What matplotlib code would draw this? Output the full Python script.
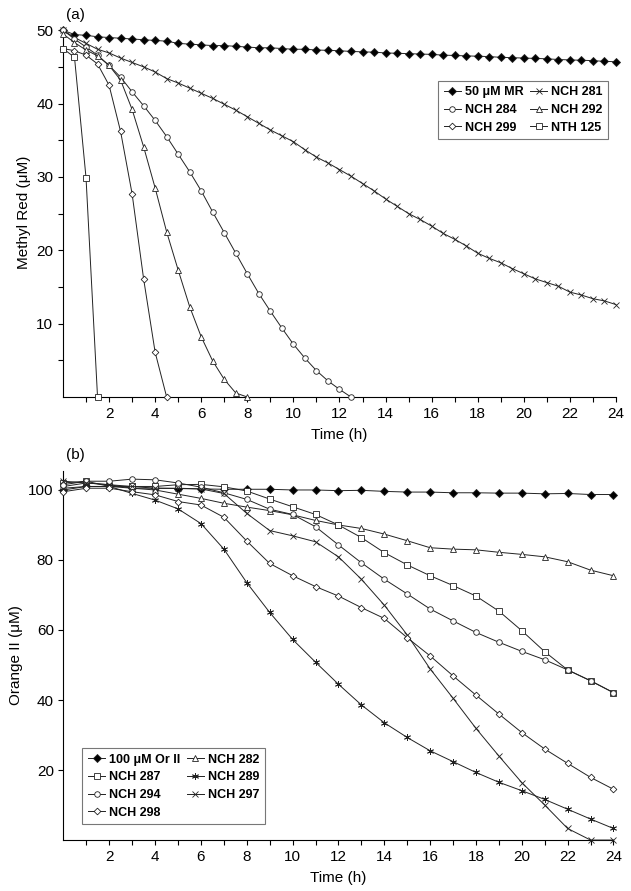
#Methyl Red and Orange II decolourisation curves
import numpy as np
import matplotlib
matplotlib.use('Agg')
import matplotlib.pyplot as plt
from matplotlib.ticker import FixedLocator

plt.rcParams['font.family'] = ['Liberation Sans', 'DejaVu Sans']

#Panel (a) data, every 0.5 h
time_a = np.arange(0, 24.5, 0.5)
mr_50 = [50.0, 49.4, 49.3, 49.1, 49.0, 48.9, 48.8, 48.7, 48.6, 48.5, 48.2, 48.1, 48.0,
         47.9, 47.9, 47.8, 47.7, 47.6, 47.6, 47.5, 47.4, 47.4, 47.3, 47.25, 47.2, 47.1,
         47.05, 47.0, 46.9, 46.85, 46.8, 46.75, 46.7, 46.6, 46.55, 46.5, 46.45, 46.4,
         46.3, 46.25, 46.2, 46.15, 46.1, 46.0, 45.95, 45.9, 45.85, 45.75, 45.7]
nch_281 = [50.0, 49.0, 48.2, 47.4, 46.9, 46.2, 45.6, 45.0, 44.3, 43.4, 42.8, 42.1, 41.4,
           40.7, 39.9, 39.1, 38.2, 37.3, 36.4, 35.6, 34.8, 33.7, 32.7, 31.9, 31.0, 30.1,
           29.1, 28.1, 27.0, 26.0, 25.0, 24.2, 23.3, 22.3, 21.5, 20.6, 19.6, 18.9, 18.3,
           17.5, 16.8, 16.1, 15.6, 15.1, 14.3, 13.9, 13.4, 13.1, 12.6]
nch_284 = [50.0, 48.8, 47.7, 46.6, 45.2, 43.6, 41.6, 39.7, 37.7, 35.5, 33.1, 30.7, 28.1,
           25.2, 22.4, 19.6, 16.8, 14.1, 11.7, 9.4, 7.2, 5.3, 3.6, 2.2, 1.05, 0.0]
nch_292 = [49.5, 48.3, 47.3, 46.5, 45.2, 43.2, 39.2, 34.1, 28.5, 22.5, 17.3, 12.3, 8.2,
           4.9, 2.4, 0.55, 0.0]
nch_299 = [47.5, 47.2, 46.6, 45.4, 42.5, 36.2, 27.7, 16.1, 6.1, 0.0]
nth_125 = [47.5, 46.3, 29.9, 0.0]

#Panel (b) data, every 1 h
time_b = np.arange(0, 25, 1)
orii_100 = [100.0, 101.0, 101.0, 100.5, 100.5, 100.4, 100.3, 100.2, 100.2, 100.2, 100.0,
            100.0, 99.8, 99.9, 99.6, 99.4, 99.4, 99.2, 99.2, 99.1, 99.1, 98.9, 99.0, 98.7, 98.7]
nch_282 = [101.0, 102.0, 101.5, 100.5, 100.0, 98.8, 97.6, 96.2, 95.1, 94.1, 92.9, 91.3,
           90.0, 89.0, 87.4, 85.5, 83.5, 83.1, 82.9, 82.2, 81.6, 80.9, 79.5, 77.1, 75.5]
nch_287 = [102.0, 102.5, 101.0, 101.0, 101.0, 101.5, 101.6, 100.9, 99.7, 97.4, 95.2, 93.0,
           90.0, 86.4, 82.1, 78.6, 75.5, 72.7, 69.7, 65.4, 59.8, 53.8, 48.6, 45.5, 42.1]
nch_289 = [100.5, 101.0, 101.0, 99.0, 97.1, 94.6, 90.4, 83.1, 73.5, 65.0, 57.3, 50.8,
           44.5, 38.6, 33.5, 29.3, 25.5, 22.4, 19.3, 16.5, 14.1, 11.6, 8.8, 6.0, 3.3]
nch_294 = [101.5, 102.5, 102.5, 103.1, 102.9, 102.0, 100.8, 99.2, 97.3, 94.5, 93.0, 89.5,
           84.3, 79.2, 74.5, 70.3, 66.0, 62.6, 59.3, 56.5, 53.9, 51.5, 48.6, 45.5, 42.1]
nch_297 = [102.5, 102.0, 101.5, 101.0, 100.5, 100.5, 100.3, 99.0, 93.3, 88.4, 86.9, 85.2,
           80.9, 74.5, 67.1, 58.6, 48.9, 40.5, 31.9, 24.0, 16.4, 10.0, 3.3, 0.0, 0.0]
nch_298 = [99.5, 100.5, 100.5, 99.5, 98.6, 96.7, 95.7, 92.2, 85.4, 79.0, 75.5, 72.4,
           69.7, 66.4, 63.3, 57.8, 52.6, 46.9, 41.4, 36.0, 30.7, 26.0, 21.9, 17.9, 14.5]

labels_a = ['50 μM MR', 'NCH 281', 'NCH 284', 'NCH 292', 'NCH 299', 'NTH 125']
labels_b = ['100 μM Or II', 'NCH 282', 'NCH 287', 'NCH 289', 'NCH 294', 'NCH 297', 'NCH 298']

fig = plt.figure(figsize=(6.31, 8.91), dpi=100)
ax1 = fig.add_axes([0.0998, 0.5544, 0.8764, 0.4142])
ax2 = fig.add_axes([0.1006, 0.0572, 0.8716, 0.4145])

def draw(ax, t, y, marker, fill, lab, ms=4.0):
    n = len(y)
    line, = ax.plot(t[:n], y, color='#222222', lw=0.7, marker=marker, ms=ms,
                    mfc='black' if fill else 'white', mec='#222222', mew=0.6,
                    label=lab, clip_on=False, zorder=3)
    return line

asterisk = (6, 2, 0)

#Panel (a)
ha = []
ha.append(draw(ax1, time_a, mr_50, 'D', True, labels_a[0], 3.6))
ha.append(draw(ax1, time_a, nch_281, 'x', False, labels_a[1], 4.5))
ha.append(draw(ax1, time_a, nch_284, 'o', False, labels_a[2]))
ha.append(draw(ax1, time_a, nch_292, '^', False, labels_a[3]))
ha.append(draw(ax1, time_a, nch_299, 'D', False, labels_a[4], 3.4))
ha.append(draw(ax1, time_a, nth_125, 's', False, labels_a[5]))

#Panel (b)
hb = []
hb.append(draw(ax2, time_b, orii_100, 'D', True, labels_b[0], 3.6))
hb.append(draw(ax2, time_b, nch_282, '^', False, labels_b[1]))
hb.append(draw(ax2, time_b, nch_287, 's', False, labels_b[2]))
hb.append(draw(ax2, time_b, nch_289, asterisk, False, labels_b[3], 5))
hb.append(draw(ax2, time_b, nch_294, 'o', False, labels_b[4]))
hb.append(draw(ax2, time_b, nch_297, 'x', False, labels_b[5], 4.5))
hb.append(draw(ax2, time_b, nch_298, 'D', False, labels_b[6], 3.4))

for ax in (ax1, ax2):
    ax.spines['top'].set_visible(False)
    ax.spines['right'].set_visible(False)
    ax.set_xlim(0, 24)
    ax.xaxis.set_major_locator(FixedLocator(range(2, 25, 2)))
    ax.xaxis.set_minor_locator(FixedLocator(range(1, 25, 2)))
    ax.tick_params(which='both', direction='out', length=3.5, width=0.8, labelsize=11)
    ax.set_xlabel('Time (h)', fontsize=11, labelpad=5)

ax1.set_ylim(0, 50.3)
ax1.yaxis.set_major_locator(FixedLocator([10, 20, 30, 40, 50]))
ax1.yaxis.set_minor_locator(FixedLocator([5, 15, 25, 35, 45]))
ax1.set_ylabel('Methyl Red (μM)', fontsize=11)

ax2.set_ylim(0, 105.5)
ax2.yaxis.set_major_locator(FixedLocator([20, 40, 60, 80, 100]))
ax2.set_ylabel('Orange II (μM)', fontsize=11)

#row-wise legend order (matplotlib fills columns first)
order_a = [0, 2, 4, 1, 3, 5]
order_b = [0, 2, 4, 6, 1, 3, 5]

leg_kw = dict(ncol=2, fancybox=False, edgecolor='#555555', handlelength=1.4,
              handletextpad=0.3, columnspacing=0.5, borderpad=0.45, labelspacing=0.45,
              borderaxespad=0, prop={'weight': 'bold', 'size': 9})
l1 = ax1.legend([ha[i] for i in order_a], [labels_a[i] for i in order_a],
                loc='upper right', bbox_to_anchor=(0.986, 0.857), **leg_kw)
l2 = ax2.legend([hb[i] for i in order_b], [labels_b[i] for i in order_b],
                loc='lower left', bbox_to_anchor=(0.034, 0.043), **leg_kw)
for l in (l1, l2):
    l.get_frame().set_linewidth(0.8)

fig.text(0.1188, 0.983, '(a)', fontsize=11, ha='center', va='center')
fig.text(0.1188, 0.489, '(b)', fontsize=11, ha='center', va='center')

fig.savefig('out.png', dpi=100)
